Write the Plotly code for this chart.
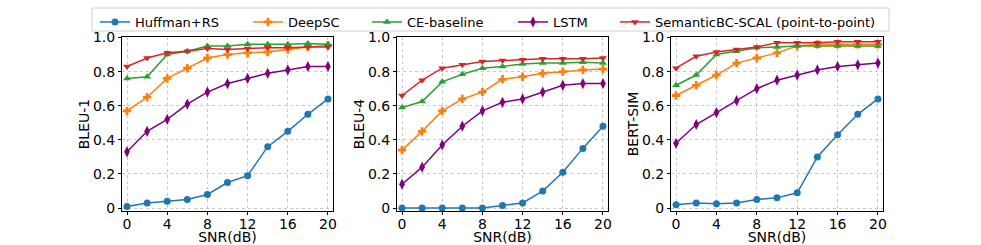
import plotly.graph_objects as go

snr = [0, 2, 4, 6, 8, 10, 12, 14, 16, 18, 20]
x_ticks = [0, 4, 8, 12, 16, 20]
y_ticks = [0, 0.2, 0.4, 0.6, 0.8, 1.0]
y_tick_labels = ["0", "0.2", "0.4", "0.6", "0.8", "1.0"]

series_names = ["Huffman+RS", "DeepSC", "CE-baseline", "LSTM", "SemanticBC-SCAL (point-to-point)"]
panel_titles = ["BLEU-1", "BLEU-4", "BERT-SIM"]

bleu1_huffman = [0.01, 0.03, 0.04, 0.05, 0.08, 0.15, 0.19, 0.36, 0.45, 0.55, 0.64]
bleu1_deepsc = [0.57, 0.65, 0.76, 0.82, 0.88, 0.90, 0.91, 0.915, 0.93, 0.945, 0.955]
bleu1_ce = [0.76, 0.77, 0.90, 0.92, 0.95, 0.95, 0.96, 0.96, 0.96, 0.965, 0.96]
bleu1_lstm = [0.33, 0.45, 0.52, 0.61, 0.68, 0.73, 0.76, 0.79, 0.81, 0.83, 0.83]
bleu1_semantic = [0.83, 0.88, 0.91, 0.92, 0.935, 0.93, 0.935, 0.94, 0.94, 0.945, 0.945]

bleu4_huffman = [0.0, 0.0, 0.0, 0.0, 0.0, 0.015, 0.03, 0.10, 0.21, 0.35, 0.48]
bleu4_deepsc = [0.34, 0.45, 0.57, 0.64, 0.68, 0.755, 0.77, 0.79, 0.80, 0.81, 0.815]
bleu4_ce = [0.59, 0.625, 0.74, 0.785, 0.82, 0.83, 0.845, 0.85, 0.85, 0.855, 0.85]
bleu4_lstm = [0.14, 0.24, 0.37, 0.48, 0.57, 0.62, 0.64, 0.68, 0.72, 0.73, 0.73]
bleu4_semantic = [0.66, 0.75, 0.82, 0.84, 0.86, 0.865, 0.87, 0.875, 0.875, 0.875, 0.88]

bert_huffman = [0.02, 0.03, 0.025, 0.03, 0.05, 0.06, 0.09, 0.30, 0.43, 0.55, 0.64]
bert_deepsc = [0.66, 0.72, 0.78, 0.85, 0.88, 0.91, 0.95, 0.96, 0.96, 0.96, 0.96]
bert_ce = [0.72, 0.78, 0.90, 0.92, 0.94, 0.945, 0.95, 0.95, 0.95, 0.95, 0.95]
bert_lstm = [0.38, 0.49, 0.56, 0.63, 0.70, 0.75, 0.78, 0.81, 0.83, 0.84, 0.85]
bert_semantic = [0.82, 0.89, 0.915, 0.93, 0.945, 0.97, 0.97, 0.97, 0.975, 0.975, 0.975]

panels = [
    [bleu1_huffman, bleu1_deepsc, bleu1_ce, bleu1_lstm, bleu1_semantic],
    [bleu4_huffman, bleu4_deepsc, bleu4_ce, bleu4_lstm, bleu4_semantic],
    [bert_huffman, bert_deepsc, bert_ce, bert_lstm, bert_semantic],
]

colors = ["#1f77b4", "#ff7f0e", "#2ca02c", "#800080", "#d62728"]
symbols = ["circle", "cross", "triangle-up", "diamond-tall", "triangle-down"]
sizes = [7, 7, 7, 8, 7]

W, H = 981, 245
x_domains = [(122, 333), (397, 608), (671, 883)]
y_dom = [1 - 211 / H, 1 - 37 / H]

# legend text start x positions (px) in the reference
legend_text_x = [135, 288, 407, 553, 655]

fig = go.Figure()
for p, data in enumerate(panels):
    xa = "x" if p == 0 else f"x{p+1}"
    ya = "y" if p == 0 else f"y{p+1}"
    for s, vals in enumerate(data):
        lg = "legend" if s == 0 else f"legend{s+1}"
        fig.add_trace(go.Scatter(
            x=snr, y=vals, mode="lines+markers", name=series_names[s],
            line=dict(color=colors[s], width=1.5),
            marker=dict(symbol=symbols[s], size=sizes[s], color=colors[s]),
            xaxis=xa, yaxis=ya, showlegend=(p == 0), legendgroup=series_names[s],
            legend=lg,
        ))

font_family = "DejaVu Sans"
for p in range(3):
    sfx = "" if p == 0 else str(p + 1)
    axis_common = dict(
        showline=True, linecolor="black", linewidth=1, mirror=True,
        ticks="outside", ticklen=3, tickcolor="black", automargin=False,
        showgrid=True, gridcolor="#c8c8c8", griddash="dot", gridwidth=1,
        zeroline=False, tickfont=dict(size=14, color="black", family=font_family),
    )
    fig.layout["xaxis" + sfx] = dict(
        axis_common, domain=[x_domains[p][0] / W, x_domains[p][1] / W],
        range=[-0.5, 20.5], tickvals=x_ticks, anchor="y" + sfx,
        ticklabelstandoff=-3,
        title=dict(text="SNR(dB)", font=dict(size=14, color="black", family=font_family), standoff=5),
    )
    fig.layout["yaxis" + sfx] = dict(
        axis_common, domain=y_dom, range=[-0.017, 1.003],
        tickvals=y_ticks, ticktext=y_tick_labels, anchor="x" + sfx,
        title=dict(text=panel_titles[p], font=dict(size=14, color="black", family=font_family), standoff=0),
    )

legend_layout = {}
for s in range(5):
    key = "legend" if s == 0 else f"legend{s+1}"
    legend_layout[key] = dict(
        orientation="h", x=(legend_text_x[s] - 40) / W, y=1 - 7 / H,
        xanchor="left", yanchor="top", borderwidth=0, bgcolor="rgba(0,0,0,0)",
        font=dict(size=13, family=font_family, color="black"), itemwidth=30,
    )

fig.update_layout(
    width=W, height=H, margin=dict(l=0, r=0, t=0, b=0, autoexpand=False),
    plot_bgcolor="white", paper_bgcolor="white",
    font=dict(family=font_family, size=13, color="black"),
    **legend_layout,
)

fig.add_shape(
    type="rect", xref="paper", yref="paper",
    x0=92 / W, x1=889 / W, y0=1 - 31 / H, y1=1 - 8 / H,
    line=dict(color="#d0d0d0", width=1), fillcolor="rgba(0,0,0,0)", layer="above",
)

fig.write_html("out.html", config={"displayModeBar": False},
               post_script="document.body.style.margin='0px';")
